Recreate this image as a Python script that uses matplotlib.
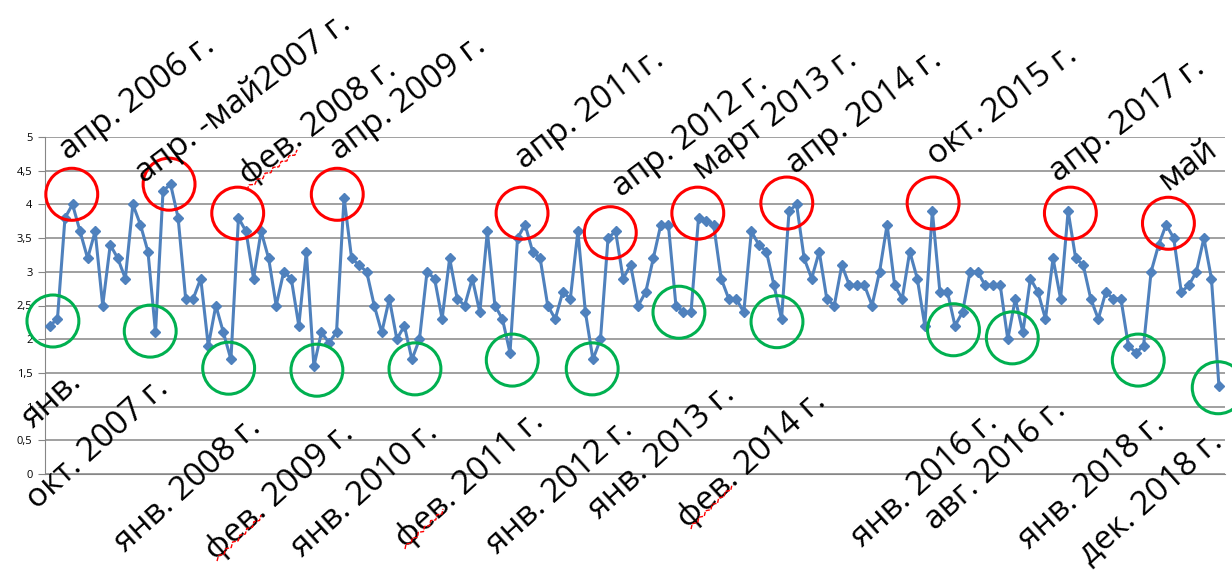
import matplotlib
matplotlib.use("Agg")
import matplotlib.pyplot as plt
from matplotlib.patches import Ellipse
from matplotlib.transforms import IdentityTransform
import numpy as np

plt.rcParams['font.family'] = ['Open Sans', 'DejaVu Sans']

# monthly values, Jan 2006 .. Dec 2018
values = [
    2.2, 2.3, 3.8, 4.0, 3.6, 3.2, 3.6, 2.5, 3.4, 3.2, 2.9, 4.0,   # 2006
    3.7, 3.3, 2.1, 4.2, 4.3, 3.8, 2.6, 2.6, 2.9, 1.9, 2.5, 2.1,   # 2007
    1.7, 3.8, 3.6, 2.9, 3.6, 3.2, 2.5, 3.0, 2.9, 2.2, 3.3, 1.6,   # 2008
    2.1, 1.95, 2.1, 4.1, 3.2, 3.1, 3.0, 2.5, 2.1, 2.6, 2.0, 2.2,  # 2009
    1.7, 2.0, 3.0, 2.9, 2.3, 3.2, 2.6, 2.5, 2.9, 2.4, 3.6, 2.5,   # 2010
    2.3, 1.8, 3.5, 3.7, 3.3, 3.2, 2.5, 2.3, 2.7, 2.6, 3.6, 2.4,   # 2011
    1.7, 2.0, 3.5, 3.6, 2.9, 3.1, 2.5, 2.7, 3.2, 3.7, 3.7, 2.5,   # 2012
    2.4, 2.4, 3.8, 3.75, 3.7, 2.9, 2.6, 2.6, 2.4, 3.6, 3.4, 3.3,  # 2013
    2.8, 2.3, 3.9, 4.0, 3.2, 2.9, 3.3, 2.6, 2.5, 3.1, 2.8, 2.8,   # 2014
    2.8, 2.5, 3.0, 3.7, 2.8, 2.6, 3.3, 2.9, 2.2, 3.9, 2.7, 2.7,   # 2015
    2.2, 2.4, 3.0, 3.0, 2.8, 2.8, 2.8, 2.0, 2.6, 2.1, 2.9, 2.7,   # 2016
    2.3, 3.2, 2.6, 3.9, 3.2, 3.1, 2.6, 2.3, 2.7, 2.6, 2.6, 1.9,   # 2017
    1.8, 1.9, 3.0, 3.4, 3.7, 3.5, 2.7, 2.8, 3.0, 3.5, 2.9, 1.3,   # 2018
]

y_ticks = [0, 0.5, 1, 1.5, 2, 2.5, 3, 3.5, 4, 4.5, 5]
y_tick_labels = ["0", "0,5", "1", "1,5", "2", "2,5", "3", "3,5", "4", "4,5", "5"]

# peaks (red) and troughs (green): circle centre as (month index, value)
peak_circles = [(2.9, 4.15), (15.8, 4.30), (24.9, 3.87), (38.1, 4.15), (62.6, 3.87),
                (74.3, 3.58), (85.9, 3.87), (97.7, 4.02), (117.1, 4.02), (135.3, 3.87),
                (148.3, 3.72)]
low_circles = [(0.4, 2.27), (13.3, 2.12), (23.7, 1.57), (35.4, 1.54), (48.4, 1.56),
               (61.3, 1.69), (71.9, 1.56), (83.4, 2.40), (96.4, 2.26), (119.8, 2.14),
               (127.6, 2.02), (144.3, 1.69), (154.9, 1.28)]

peak_labels = [
    ("апр. 2006 г.", 11.6, 5.58), ("апр. -май2007 г.", 25.6, 5.58),
    ("фев. 2008 г.", 35.5, 5.21), ("апр. 2009 г.", 47.5, 5.58),
    ("апр. 2011г.", 71.6, 5.40), ("апр. 2012 г.", 84.9, 5.03),
    ("март 2013 г.", 96.2, 5.33), ("апр. 2014 г.", 108.0, 5.37),
    ("окт. 2015 г.", 126.3, 5.47), ("апр. 2017 г.", 142.8, 5.25),
    ("май", 150.9, 4.58),
]
low_labels = [
    ("янв.", 0.3, 1.10), ("окт. 2007 г.", 6.4, 0.45), ("янв. 2008 г.", 18.3, -0.16),
    ("фев. 2009 г.", 30.5, -0.27), ("янв. 2010 г.", 41.8, -0.24),
    ("фев. 2011 г.", 55.7, -0.09), ("янв. 2012 г.", 67.6, -0.19),
    ("янв. 2013 г.", 81.2, 0.33), ("фев. 2014 г.", 93.0, 0.21),
    ("янв. 2016 г.", 116.0, -0.09), ("авг. 2016 г.", 125.3, 0.13),
    ("янв. 2018 г.", 138.2, -0.12), ("дек. 2018 г.", 146.0, -0.36),
]

# red spell-check squiggles under "фев" (pixel start/end, top-left origin)
squiggles = [((246, 189), (298, 151)), ((216, 560), (262, 516)),
             ((404, 548), (444, 510)), ((690, 528), (733, 486))]

W, H = 1232, 578
fig = plt.figure(figsize=(W / 100, H / 100), dpi=100)
ax = fig.add_axes([45 / W, 104 / H, 1180 / W, 337 / H])

x = np.arange(len(values))
ax.plot(x, values, color="#4F81BD", lw=2.2, marker="D", ms=5.5, zorder=3)

ax.set_xlim(-0.65, 155.8)
ax.set_ylim(0, 5)
ax.set_yticks(y_ticks)
ax.set_yticklabels(y_tick_labels)
ax.set_xticks([])
ax.grid(axis="y", color="#868686", lw=1.1)
ax.set_axisbelow(True)
for side in ("top", "right"):
    ax.spines[side].set_visible(False)
for side in ("left", "bottom"):
    ax.spines[side].set_color("#868686")
ax.tick_params(axis="y", length=5, color="#868686", labelsize=8, pad=4)

# circle size in data units (about 52 px across)
cw, ch = 52 / 7.56, 52 / 67.4
for cx, cy in peak_circles:
    ax.add_patch(Ellipse((cx, cy), cw, ch, fill=False, ec="#FF0000", lw=2.2,
                         clip_on=False, zorder=4))
for cx, cy in low_circles:
    ax.add_patch(Ellipse((cx, cy), cw, ch, fill=False, ec="#00B050", lw=2.2,
                         clip_on=False, zorder=4))

for text, tx, ty in peak_labels:
    ax.text(tx, ty, text, fontsize=24, rotation=37, rotation_mode="anchor",
            ha="center", va="center", clip_on=False, zorder=5)
for text, tx, ty in low_labels:
    ax.text(tx, ty, text, fontsize=24, rotation=42, rotation_mode="anchor",
            ha="center", va="center", clip_on=False, zorder=5)

# zigzag line between two pixel points
for (x0, y0), (x1, y1) in squiggles:
    n = 14
    t = np.linspace(0, 1, n)
    dx, dy = x1 - x0, (H - y1) - (H - y0)
    length = np.hypot(dx, dy)
    nx, ny = -dy / length, dx / length
    off = np.where(np.arange(n) % 2 == 0, -1.5, 1.5)
    px = x0 + dx * t + nx * off
    py = (H - y0) + dy * t + ny * off
    fig.add_artist(plt.Line2D(px, py, color="#FF0000", lw=1, ls=(0, (3, 1)),
                              transform=IdentityTransform()))

fig.savefig("out.png", dpi=100)
